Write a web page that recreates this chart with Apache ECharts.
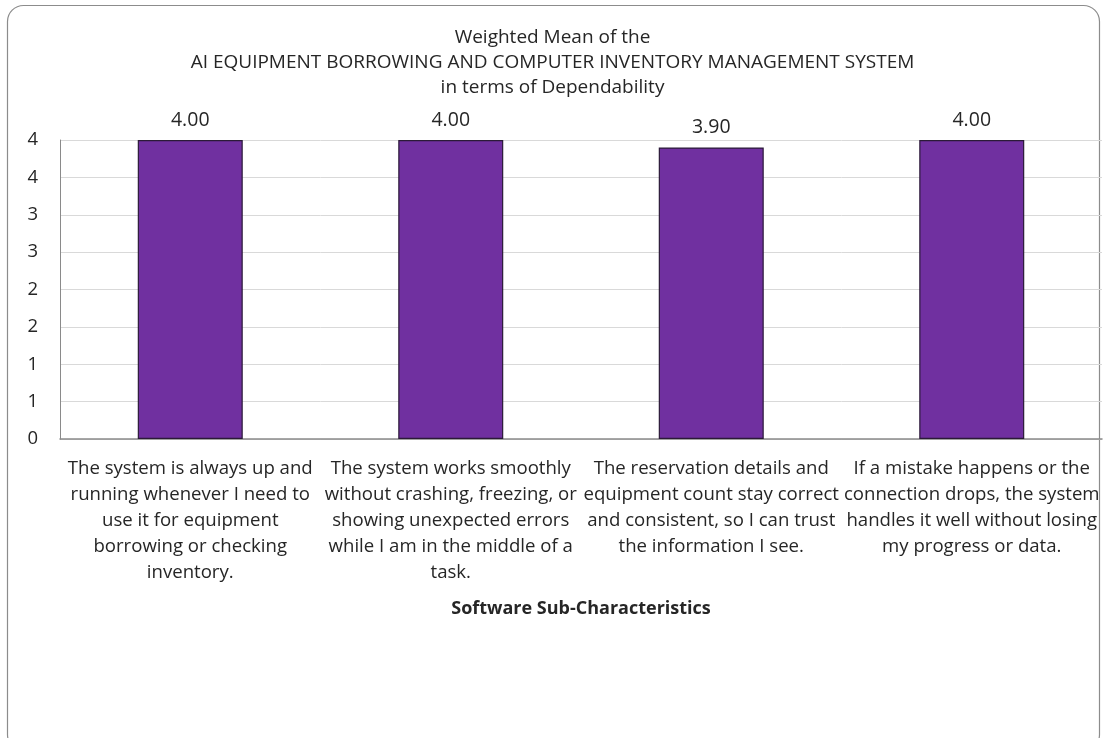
<!DOCTYPE html>
<html>
<head>
<meta charset="utf-8">
<script src="https://cdn.jsdelivr.net/npm/echarts@6/dist/echarts.min.js"></script>
<style>
html,body{margin:0;padding:0;background:#fff;}
#chart{width:1105px;height:738px;}
</style>
</head>
<body>
<div id="chart"></div>
<script>
var titleLines = ['Weighted Mean of the', 'AI EQUIPMENT BORROWING AND COMPUTER INVENTORY MANAGEMENT SYSTEM', 'in terms of Dependability'];
var categories = [
  'The system is always up and\nrunning whenever I need to\nuse it for equipment\nborrowing or checking\ninventory.',
  'The system works smoothly\nwithout crashing, freezing, or\nshowing unexpected errors\nwhile I am in the middle of a\ntask.',
  'The reservation details and\nequipment count stay correct\nand consistent, so I can trust\nthe information I see.',
  'If a mistake happens or the\nconnection drops, the system\nhandles it well without losing\nmy progress or data.'
];
var values = [4.00, 4.00, 3.90, 4.00];
var xAxisName = 'Software Sub-Characteristics';

var FONT = 'Open Sans';
var chart = echarts.init(document.getElementById('chart'), null, {renderer: 'canvas'});
chart.setOption({
  backgroundColor: '#fff',
  animation: false,
  textStyle: {fontFamily: FONT},
  graphic: [{
    type: 'rect',
    shape: {x: 7.5, y: 5.5, width: 1092, height: 745, r: 16},
    style: {fill: 'none', stroke: '#8c8c8c', lineWidth: 1.2},
    z: -1
  }],
  title: {
    text: titleLines.join('\n'),
    left: 'center',
    top: 20,
    textStyle: {fontFamily: FONT, fontSize: 19, fontWeight: 'normal', color: '#262626', lineHeight: 25}
  },
  grid: {left: 60, right: 3, top: 140, bottom: 299},
  xAxis: {
    type: 'category',
    data: categories,
    name: xAxisName,
    nameLocation: 'middle',
    nameGap: 161,
    nameTextStyle: {fontFamily: FONT, fontSize: 18, fontWeight: 'bold', color: '#262626'},
    axisLine: {lineStyle: {color: '#8a8a8a', width: 1.5}},
    axisTick: {show: false},
    axisLabel: {interval: 0, margin: 17, fontFamily: FONT, fontSize: 18.6, color: '#262626', lineHeight: 26, align: 'center', verticalAlign: 'top'}
  },
  yAxis: {
    type: 'value',
    min: 0, max: 4, interval: 0.5,
    axisLine: {show: true, lineStyle: {color: '#8a8a8a', width: 1}},
    axisTick: {show: false},
    splitLine: {lineStyle: {color: '#d9d9d9', width: 1}},
    axisLabel: {margin: 22, fontFamily: FONT, fontSize: 18.5, color: '#262626', formatter: function (v) { return String(Math.round(v)); }}
  },
  series: [{
    type: 'bar',
    data: values,
    barWidth: 105,
    itemStyle: {color: '#7030A0', borderColor: '#2b1a38', borderWidth: 1.2},
    label: {show: true, position: 'top', distance: 10, fontFamily: FONT, fontSize: 19.5, color: '#262626', formatter: function (p) { return p.value.toFixed(2); }}
  }]
});
</script>
</body>
</html>
